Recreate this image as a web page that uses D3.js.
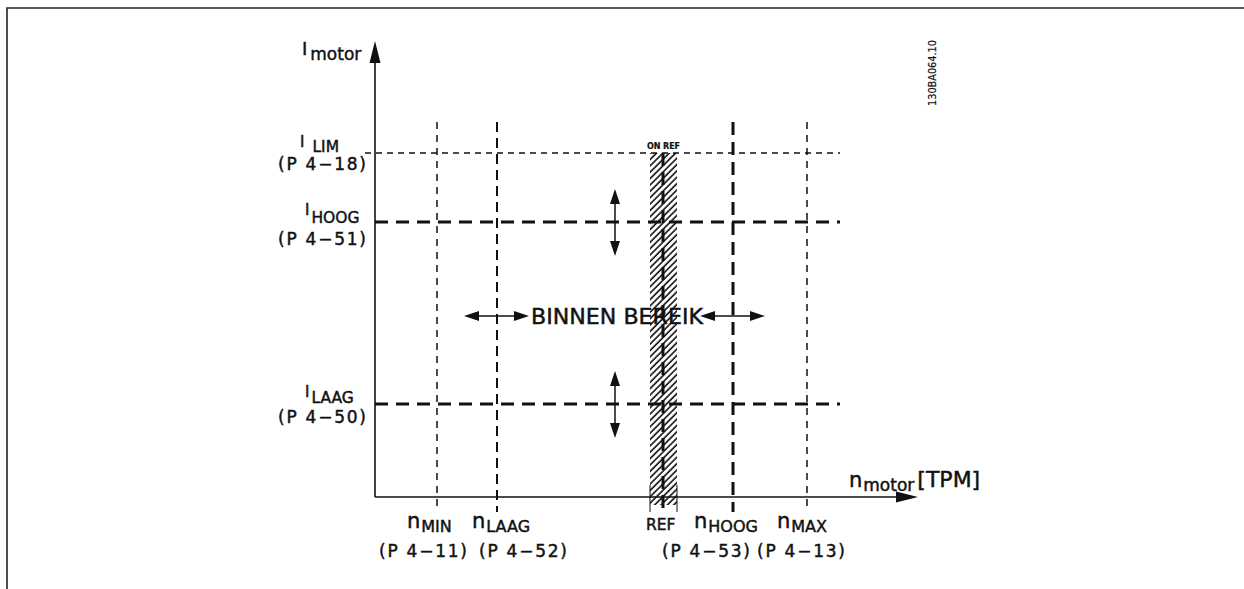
<!DOCTYPE html>
<html><head><meta charset="utf-8">
<script src="https://cdn.jsdelivr.net/npm/d3@7"></script>
<style>
html,body{margin:0;padding:0;background:#fff;}
svg{display:block;}
text{font-family:"DejaVu Sans",sans-serif;fill:#111;stroke:#111;stroke-width:0.45px;}
</style></head>
<body>
<svg id="c" width="1244" height="589"></svg>
<script>
// ---- data ----
const speedNames = ["MIN", "LAAG", "REF", "HOOG", "MAX"];
const speedValues = [12.4, 24.4, 57.6, 71.6, 86.4];
const speedParams = ["P 4−11", "P 4−52", "", "P 4−53", "P 4−13"];
const currentNames = ["LIM", "HOOG", "LAAG"];
const currentValues = [86, 68.75, 23.25];
const currentParams = ["P 4−18", "P 4−51", "P 4−50"];
const refBand = [55, 60.4];
const rangeLabel = "BINNEN  BEREIK";
const docCode = "130BA064.10";

// ---- layout ----
const svg = d3.select("#c");
const x = d3.scaleLinear().domain([0, 100]).range([375, 875]);
const y = d3.scaleLinear().domain([0, 100]).range([497, 97]);
const ink = "#111";

// frame
svg.append("path").attr("d", "M7,589 V8 H1244").attr("fill", "none").attr("stroke", "#222").attr("stroke-width", 1.6);

// hatch pattern
const defs = svg.append("defs");
const pat = defs.append("pattern").attr("id", "hatch").attr("patternUnits", "userSpaceOnUse")
  .attr("width", 4.5).attr("height", 4.5).attr("patternTransform", "rotate(45)");
pat.append("rect").attr("width", 4.5).attr("height", 4.5).attr("fill", "#fff");
pat.append("line").attr("x1", 1).attr("y1", 0).attr("x2", 1).attr("y2", 4.5).attr("stroke", "#000").attr("stroke-width", 1.5);

const xMaxAxis = 108.6, yMaxAxis = 114;

// ref band
svg.append("rect").attr("x", x(refBand[0])).attr("y", y(currentValues[0]))
  .attr("width", x(refBand[1]) - x(refBand[0])).attr("height", y(0) + 8 - y(currentValues[0]))
  .attr("fill", "url(#hatch)");

// axes
svg.append("line").attr("x1", x(0)).attr("x2", x(xMaxAxis) - 14).attr("y1", y(0)).attr("y2", y(0)).attr("stroke", ink).attr("stroke-width", 1.6);
svg.append("path").attr("d", `M${x(xMaxAxis)},${y(0)} l-22,-5.5 v11 z`).attr("fill", ink);
svg.append("line").attr("x1", x(0)).attr("x2", x(0)).attr("y1", y(0)).attr("y2", y(yMaxAxis) + 14).attr("stroke", ink).attr("stroke-width", 1.6);
svg.append("path").attr("d", `M${x(0)},${y(yMaxAxis)} l-5.5,22 h11 z`).attr("fill", ink);

// current lines
const curStyle = [{w:1.3, d:"6,5", x0:-2}, {w:3, d:"13,8", x0:0}, {w:3, d:"13,8", x0:0}];
currentValues.forEach((v, i) => {
  svg.append("line").attr("x1", x(curStyle[i].x0)).attr("x2", 840).attr("y1", y(v)).attr("y2", y(v))
    .attr("stroke", ink).attr("stroke-width", curStyle[i].w).attr("stroke-dasharray", curStyle[i].d);
});

// speed lines
const spStyle = [{w:1.5, d:"7,6"}, {w:2, d:"10,6"}, {w:3, d:"13,6"}, {w:3, d:"13,7"}, {w:1.5, d:"7,6"}];
speedValues.forEach((v, i) => {
  const top = i === 2 ? y(currentValues[0]) : 122;
  svg.append("line").attr("x1", x(v)).attr("x2", x(v)).attr("y1", top).attr("y2", 512)
    .attr("stroke", ink).attr("stroke-width", spStyle[i].w).attr("stroke-dasharray", spStyle[i].d);
});
// ref band edge ticks
refBand.forEach(v => {
  svg.append("line").attr("x1", x(v)).attr("x2", x(v)).attr("y1", y(0) - 12).attr("y2", 512)
    .attr("stroke", ink).attr("stroke-width", 1);
});

// double arrows
function dblArrow(x1, y1, x2, y2) {
  const a = Math.atan2(y2 - y1, x2 - x1), L = 15, W = 5;
  const g = svg.append("g");
  const ux = Math.cos(a), uy = Math.sin(a);
  g.append("line").attr("x1", x1 + ux * L).attr("y1", y1 + uy * L).attr("x2", x2 - ux * L).attr("y2", y2 - uy * L)
    .attr("stroke", ink).attr("stroke-width", 1.5);
  const head = (px, py, dx, dy) => `M${px},${py} L${px - dx * L - dy * W},${py - dy * L + dx * W} L${px - dx * L + dy * W},${py - dy * L - dx * W} Z`;
  g.append("path").attr("d", head(x2, y2, ux, uy)).attr("fill", ink);
  g.append("path").attr("d", head(x1, y1, -ux, -uy)).attr("fill", ink);
}
const arrowX = 48;
[1, 2].forEach(i => dblArrow(x(arrowX), y(currentValues[i]) - 33, x(arrowX), y(currentValues[i]) + 34));
[1, 3].forEach(i => dblArrow(x(speedValues[i]) - 33, 316, x(speedValues[i]) + 32, 316));

// range label
svg.append("text").attr("x", x(speedValues[1]) + 34).attr("y", 323.5).attr("font-size", 21)
  .attr("textLength", 172).attr("lengthAdjust", "spacingAndGlyphs").text(rangeLabel);

// ON REF small text
svg.append("text").attr("x", x(refBand[0]) - 3).attr("y", 149).attr("font-size", 8).attr("font-weight", "bold")
  .style("stroke-width", "0.2px").attr("textLength", 33).text("ON  REF");

// label helper
function subLabel(xp, yp, main, sub, mainSize, subSize, gap, drop) {
  const t = svg.append("text").attr("x", xp).attr("y", yp);
  t.append("tspan").attr("font-size", mainSize).text(main);
  t.append("tspan").attr("font-size", subSize).attr("dx", gap).attr("dy", drop).text(sub);
  return t;
}
// y axis title
subLabel(302, 55, "I", "motor", 18, 17, 3, 5);

// current labels
const curLab = [{ix:300, iy:147, gap:8, drop:5, px:278, py:170},
                {ix:305, iy:215, gap:2, drop:8, px:278, py:245},
                {ix:305, iy:397, gap:2, drop:6, px:278, py:423}];
currentValues.forEach((v, i) => {
  const L = curLab[i];
  subLabel(L.ix, L.iy, "I", currentNames[i], 15, 15.5, L.gap, L.drop);
  svg.append("text").attr("x", L.px).attr("y", L.py).attr("font-size", 17)
    .attr("textLength", 88).attr("lengthAdjust", "spacing").text("(" + currentParams[i] + ")");
});

// speed labels
const spLab = [{n:-30, p:-58}, {n:-25, p:-18}, {n:-17, p:0}, {n:-39, p:-71}, {n:-30, p:-50}];
speedValues.forEach((v, i) => {
  if (i === 2) {
    svg.append("text").attr("x", x(v) - 17).attr("y", 530).attr("font-size", 15.5).text(speedNames[i]);
    return;
  }
  subLabel(x(v) + spLab[i].n, 528, "n", speedNames[i], 21, 16, 1, 4);
  svg.append("text").attr("x", x(v) + spLab[i].p).attr("y", 557).attr("font-size", 17)
    .attr("textLength", 88).attr("lengthAdjust", "spacing").text("(" + speedParams[i] + ")");
});

// x axis title
const xt = subLabel(849, 487, "n", "motor", 21, 17, 1, 4);
xt.append("tspan").attr("font-size", 22).attr("dy", -4).attr("dx", 3).text("[TPM]");

// document code
svg.append("text").attr("transform", "translate(936,106) rotate(-90)").attr("font-size", 11)
  .style("stroke-width", "0.2px").attr("textLength", 66).attr("lengthAdjust", "spacingAndGlyphs")
  .attr("font-family", "Liberation Sans, Arial, sans-serif").text(docCode);
</script>
</body></html>
